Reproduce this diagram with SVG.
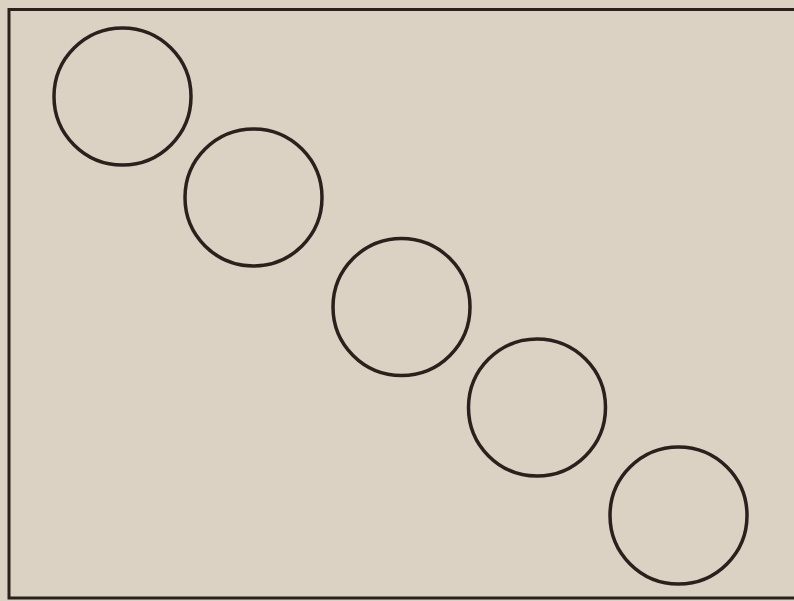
<svg xmlns="http://www.w3.org/2000/svg" width="794" height="601" viewBox="0 0 794 601">
<style>
.c{fill:none;stroke:#2a211d;stroke-width:3.5}
</style>
<rect x="0" y="0" width="794" height="601" fill="#dbd2c4"/>
<rect x="9" y="9.5" width="790" height="588.5" fill="none" stroke="#2a211d" stroke-width="3"/>
<g id="circle1"><circle class="c" cx="122.5" cy="96.5" r="68.5"/></g>
<g id="circle2"><circle class="c" cx="253.5" cy="197.5" r="68.5"/></g>
<g id="circle3"><circle class="c" cx="401.5" cy="307" r="68.5"/></g>
<g id="circle4"><circle class="c" cx="537" cy="407.5" r="68.5"/></g>
<g id="circle5"><circle class="c" cx="678.5" cy="515.5" r="68.5"/></g>
<g id="connectors"></g>
</svg>
